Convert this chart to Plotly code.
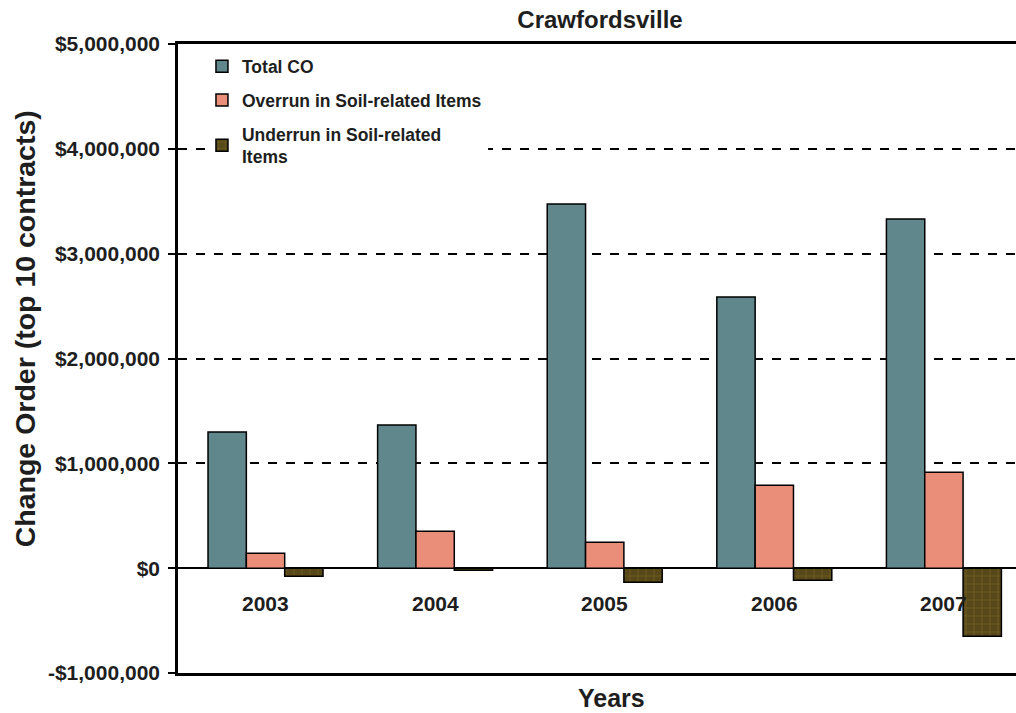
import plotly.graph_objects as go

# Change orders for the top 10 contracts, Crawfordsville district
years = ["2003", "2004", "2005", "2006", "2007"]
total_co = [1300000, 1365000, 3473000, 2586000, 3330000]
overrun_soil = [143000, 353000, 248000, 792000, 916000]
underrun_soil = [-76000, -20000, -134000, -115000, -649000]

tick_vals = [-1000000, 0, 1000000, 2000000, 3000000, 4000000, 5000000]
tick_text = ["-$1,000,000", "$0", "$1,000,000", "$2,000,000",
             "$3,000,000", "$4,000,000", "$5,000,000"]

FONT = "Liberation Sans"
INK = "#1e1e1e"

fig = go.Figure()
fig.add_trace(go.Bar(
    x=years, y=total_co, name="Total CO", legendgroup="a",
    marker=dict(color="#5f878c", line=dict(color="black", width=1.5)),
))
fig.add_trace(go.Bar(
    x=years, y=overrun_soil, name="Overrun in Soil-related Items", legendgroup="b",
    marker=dict(color="#ea8e7a", line=dict(color="black", width=1.5)),
))
fig.add_trace(go.Bar(
    x=years, y=underrun_soil, name="Underrun in Soil-related<br>Items", legendgroup="c",
    marker=dict(
        color="#574819",
        line=dict(color="black", width=1.5),
        pattern=dict(shape="+", fgcolor="#8c772c", bgcolor="#574819",
                     size=8, solidity=0.18),
    ),
))

# Year labels sit below the zero line (positioned by category index)
for i, yr in enumerate(years):
    fig.add_annotation(x=i, y=0, xref="x", yref="y", text=yr, showarrow=False,
                       yanchor="middle", yshift=-35,
                       font=dict(family=FONT, size=21, color=INK, weight="bold"))

fig.add_annotation(x=-0.1826, y=0.548, xref="paper", yref="paper",
                   text="Change Order (top 10 contracts)", textangle=-90,
                   showarrow=False, xanchor="center", yanchor="middle",
                   font=dict(family=FONT, size=28.5, color=INK, weight="bold"))
fig.add_annotation(x=0.517, y=-0.04, xref="paper", yref="paper",
                   text="Years", showarrow=False, xanchor="center", yanchor="middle",
                   font=dict(family=FONT, size=25, color=INK, weight="bold"))

# White backing panel behind the legend entries
fig.add_shape(type="rect", xref="paper", yref="paper",
              x0=0.0418, x1=0.370, y0=0.80, y1=0.985,
              fillcolor="white", line=dict(width=0), layer="above")

fig.update_layout(
    width=1016, height=713,
    margin=dict(l=178, r=0, t=44, b=40),
    paper_bgcolor="white", plot_bgcolor="white",
    barmode="group", bargap=0.322, bargroupgap=0,
    title=dict(text="Crawfordsville", x=(600 - 178) / 838, xref="paper", y=1 - 20 / 713,
               yanchor="middle", xanchor="center",
               font=dict(family=FONT, size=24, color=INK, weight="bold")),
    showlegend=True,
    legend=dict(x=0.0286, y=0.993, xanchor="left", yanchor="top",
                bgcolor="rgba(0,0,0,0)", traceorder="grouped", tracegroupgap=8,
                font=dict(family=FONT, size=17.5, color=INK, weight="bold")),
    xaxis=dict(type="category", categoryorder="array", categoryarray=years,
               range=[-0.516, 4.425],
               showticklabels=False, ticks="",
               showline=True, linecolor="black", linewidth=3, mirror=True,
               showgrid=False, zeroline=False),
    yaxis=dict(range=[-1000000, 5000000], tickvals=tick_vals, ticktext=tick_text,
               showline=True, linecolor="black", linewidth=2.5,
               ticks="outside", ticklen=7, tickwidth=1.5, tickcolor="black",
               ticklabelstandoff=4,
               showgrid=True, gridcolor="black", griddash="dash", gridwidth=1.5,
               zeroline=True, zerolinecolor="black", zerolinewidth=1.5,
               tickfont=dict(family=FONT, size=21, color=INK, weight="bold")),
)

fig.write_html("out.html")
